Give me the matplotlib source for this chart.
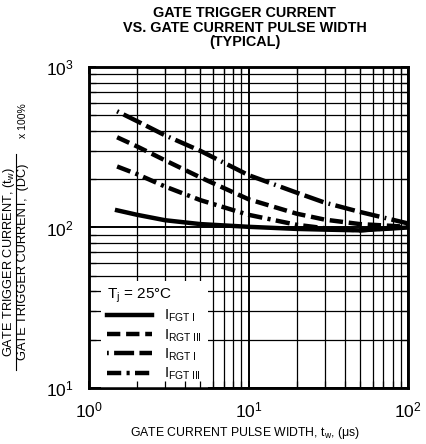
import matplotlib
matplotlib.use("Agg")
import matplotlib.pyplot as plt
import numpy as np

plt.rcParams['font.family'] = ['Liberation Sans', 'DejaVu Sans']
plt.rcParams['mathtext.fontset'] = 'custom'
plt.rcParams['mathtext.rm'] = 'Liberation Sans'
plt.rcParams['mathtext.it'] = 'Liberation Sans'

# pulse width (us) and relative gate trigger current (%)
tw = [1.5, 2, 3, 5, 10, 20, 30, 50, 100]
i_fgt1 = [128, 120, 111, 105, 101, 98, 97, 96, 100]
i_rgt3 = [365, 320, 262, 205, 150, 122, 112, 105, 101]
i_rgt1 = [530, 460, 375, 300, 212, 165, 143, 125, 106]
i_fgt3 = [240, 215, 180, 148, 120, 104, 99, 96, 101]

labels = [r'I$_\mathregular{FGT\ I}$', r'I$_\mathregular{RGT\ III}$',
          r'I$_\mathregular{RGT\ I}$', r'I$_\mathregular{FGT\ III}$']

fig = plt.figure(figsize=(4.27, 4.44), dpi=100)
rect = [89 / 427, 1 - 388 / 444, 319 / 427, 321 / 444]
ax = fig.add_axes(rect)

lw = 3.2
ax.plot(tw, i_fgt1, color='black', lw=lw, label=labels[0], zorder=3)
ax.plot(tw, i_rgt3, color='black', lw=lw, ls=(0, (3, 1.3)), label=labels[1], zorder=3)
ax.plot(tw, i_rgt1, color='black', lw=lw, ls=(0, (0.4, 1.2, 4.5, 1.2, 4.5, 1.2)),
        label=labels[2], zorder=3)
ax.plot(tw, i_fgt3, color='black', lw=lw, ls=(0, (3.2, 1.2, 0.7, 1.2)), label=labels[3], zorder=3)

ax.set_xscale('log')
ax.set_yscale('log')
ax.set_xlim(1, 100)
ax.set_ylim(10, 1000)
ax.grid(which='major', color='black', lw=1.4)
ax.grid(which='minor', color='black', lw=0.9)
ax.tick_params(which='both', length=0, labelsize=12.5)
ax.tick_params(axis='x', pad=9)
ax.tick_params(axis='y', pad=11)
for s in ax.spines.values():
    s.set_linewidth(1.8)

leg = ax.legend(loc='lower left', bbox_to_anchor=(0.038, 0.0), title=r'T$_\mathregular{j}$ = 25°C',
                fontsize=10.5, title_fontsize=11, frameon=True, facecolor='white',
                edgecolor='none', framealpha=1, fancybox=False, handlelength=3.1,
                handletextpad=0.8, labelspacing=0.2, borderpad=0.4, borderaxespad=0.0,
                alignment='left')
leg.set_zorder(5)

# overlay axes for inward tick stubs drawn over the legend box
ax2 = fig.add_axes(rect, facecolor='none', sharex=ax, sharey=ax)
ax2.tick_params(which='both', direction='in', length=5, width=0.9,
                labelbottom=False, labelleft=False, top=True, right=True)
ax2.tick_params(which='major', width=1.4)
for s in ax2.spines.values():
    s.set_linewidth(1.8)

fig.text(0.573, 1 - 6 / 444, 'GATE TRIGGER CURRENT\nVS. GATE CURRENT PULSE WIDTH\n(TYPICAL)',
         ha='center', va='top', fontsize=10.4, fontweight='bold', linespacing=1.05)
fig.text(0.573, 1 - 433 / 444, r'GATE CURRENT PULSE WIDTH, t$_\mathregular{w}$, ($\mu$s)',
         ha='center', va='center', fontsize=8.8)

ycen = 1 - 262 / 444
fig.text(9 / 427, ycen, r'GATE TRIGGER CURRENT, (t$_\mathregular{w}$)', rotation=90,
         ha='center', va='center', fontsize=9.2)
fig.text(23 / 427, ycen, 'GATE TRIGGER CURRENT,  (DC)', rotation=90,
         ha='center', va='center', fontsize=9.2)
fig.text(22.5 / 427, 1 - 138 / 444, 'x 100%', rotation=90, ha='center', va='bottom', fontsize=7.5)
ax.plot([16 / 427, 16 / 427], [1 - 370 / 444, 1 - 154 / 444], color='black', lw=0.8,
        transform=fig.transFigure, clip_on=False)

fig.savefig('out.png', dpi=100)
